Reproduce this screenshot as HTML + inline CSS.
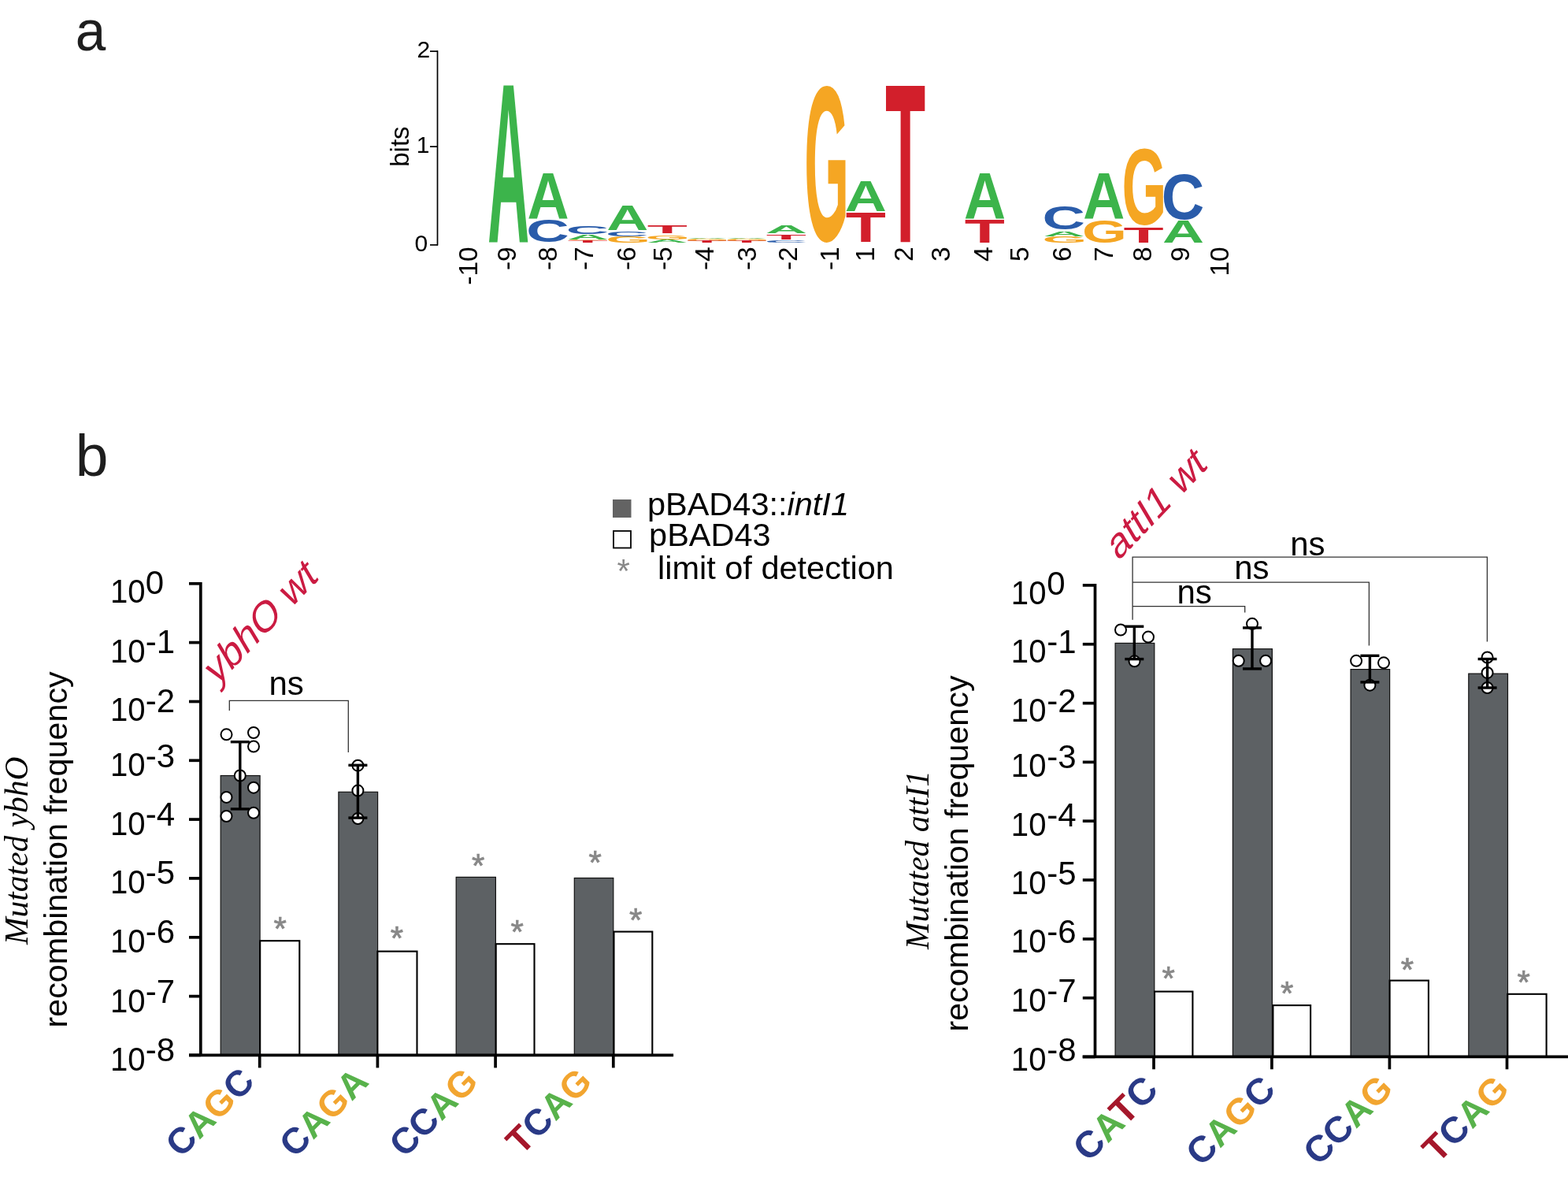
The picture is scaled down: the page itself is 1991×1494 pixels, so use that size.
<!DOCTYPE html>
<html><head><meta charset="utf-8"><title>Figure</title><style>
html,body{margin:0;padding:0;background:#fff;}
svg{display:block;}
text{font-family:"Liberation Sans",Arial,sans-serif;}
.big{font-size:73px;fill:#1e1e1e;}
.s30{font-size:30px;}
.s33{font-size:33px;}
.s335{font-size:33.5px;}
.s42{font-size:42px;}
.s415{font-size:41.5px;}
.s41{font-size:41.3px;}
.ast{font-size:42px;}
.lg{font-size:100px;font-weight:bold;}
.ser{font-family:"Liberation Serif","Times New Roman",serif;font-style:italic;font-size:41.5px;}
.red{font-size:50px;fill:#cb1b42;}
.xl{font-weight:bold;}
</style></head>
<body><svg width="1991" height="1494" viewBox="0 0 1991 1494">
<rect width="1991" height="1494" fill="#fff"/>
<text transform="translate(95.8 63.9) scale(0.95 1)" class="big">a</text>
<text x="95.8" y="604.4" class="big" style="font-size:75px">b</text>
<g stroke="#000" stroke-width="1.7" fill="none">
<line x1="555.5" y1="64.3" x2="555.5" y2="311.5"/>
<line x1="546" y1="65.1" x2="556" y2="65.1"/>
<line x1="546" y1="186.1" x2="556" y2="186.1"/>
<line x1="546" y1="310.9" x2="556" y2="310.9"/>
</g>
<text x="546.3" y="73.2" text-anchor="end" class="s30">2</text>
<text x="545.5" y="194.2" text-anchor="end" class="s30">1</text>
<text x="543.3" y="319.0" text-anchor="end" class="s30">0</text>
<text transform="translate(519 211.8) rotate(-90)" class="s33">bits</text>
<text transform="translate(606 313.3) rotate(-90)" text-anchor="end" class="s335">-10</text>
<text transform="translate(654.8 313.3) rotate(-90)" text-anchor="end" class="s335">-9</text>
<text transform="translate(706.8 313.3) rotate(-90)" text-anchor="end" class="s335">-8</text>
<text transform="translate(753 313.3) rotate(-90)" text-anchor="end" class="s335">-7</text>
<text transform="translate(806.9 313.3) rotate(-90)" text-anchor="end" class="s335">-6</text>
<text transform="translate(852.6 313.3) rotate(-90)" text-anchor="end" class="s335">-5</text>
<text transform="translate(905.6 313.3) rotate(-90)" text-anchor="end" class="s335">-4</text>
<text transform="translate(959.5 313.3) rotate(-90)" text-anchor="end" class="s335">-3</text>
<text transform="translate(1011.8 313.3) rotate(-90)" text-anchor="end" class="s335">-2</text>
<text transform="translate(1065.3 313.3) rotate(-90)" text-anchor="end" class="s335">-1</text>
<text transform="translate(1109.9 313.3) rotate(-90)" text-anchor="end" class="s335">1</text>
<text transform="translate(1159.3 313.3) rotate(-90)" text-anchor="end" class="s335">2</text>
<text transform="translate(1206.3 313.3) rotate(-90)" text-anchor="end" class="s335">3</text>
<text transform="translate(1259.8 313.3) rotate(-90)" text-anchor="end" class="s335">4</text>
<text transform="translate(1305.7 313.3) rotate(-90)" text-anchor="end" class="s335">5</text>
<text transform="translate(1359.8 313.3) rotate(-90)" text-anchor="end" class="s335">6</text>
<text transform="translate(1412.5 313.3) rotate(-90)" text-anchor="end" class="s335">7</text>
<text transform="translate(1462 313.3) rotate(-90)" text-anchor="end" class="s335">8</text>
<text transform="translate(1509.8 313.3) rotate(-90)" text-anchor="end" class="s335">9</text>
<text transform="translate(1559.5 313.3) rotate(-90)" text-anchor="end" class="s335">10</text>
<text transform="matrix(0.73484 0 0 2.89249 619.17 307.50)" class="lg" fill="#3cb44b">A</text>
<text transform="matrix(0.73484 0 0 0.83722 669.57 278.20)" class="lg" fill="#3cb44b">A</text>
<text transform="matrix(0.75404 0 0 0.40254 668.31 307.11)" class="lg" fill="#2a5caa">C</text>
<text transform="matrix(0.75404 0 0 0.14124 718.71 296.66)" class="lg" fill="#2a5caa">C</text>
<text transform="matrix(0.73484 0 0 0.09302 719.97 304.00)" class="lg" fill="#3cb44b">A</text>
<text transform="matrix(0.73058 0 0 0.01695 718.80 305.38)" class="lg" fill="#f5a623">G</text>
<text transform="matrix(0.83720 0 0 0.03198 720.86 307.60)" class="lg" fill="#d21f2b">T</text>
<text transform="matrix(0.73484 0 0 0.43896 770.37 292.00)" class="lg" fill="#3cb44b">A</text>
<text transform="matrix(0.75404 0 0 0.09604 769.11 299.51)" class="lg" fill="#2a5caa">C</text>
<text transform="matrix(0.73058 0 0 0.10169 769.20 307.90)" class="lg" fill="#f5a623">G</text>
<text transform="matrix(0.83720 0 0 0.14535 821.66 296.00)" class="lg" fill="#d21f2b">T</text>
<text transform="matrix(0.73058 0 0 0.07910 819.60 303.52)" class="lg" fill="#f5a623">G</text>
<text transform="matrix(0.73484 0 0 0.04797 820.77 307.70)" class="lg" fill="#3cb44b">A</text>
<text transform="matrix(0.73484 0 0 0.02326 871.17 303.00)" class="lg" fill="#3cb44b">A</text>
<text transform="matrix(0.73058 0 0 0.03672 870.00 305.76)" class="lg" fill="#f5a623">G</text>
<text transform="matrix(0.83720 0 0 0.02616 872.06 307.80)" class="lg" fill="#d21f2b">T</text>
<text transform="matrix(0.73484 0 0 0.02326 921.57 303.00)" class="lg" fill="#3cb44b">A</text>
<text transform="matrix(0.73058 0 0 0.03672 920.40 305.76)" class="lg" fill="#f5a623">G</text>
<text transform="matrix(0.83720 0 0 0.02616 922.46 307.80)" class="lg" fill="#d21f2b">T</text>
<text transform="matrix(0.73484 0 0 0.14244 971.97 295.60)" class="lg" fill="#3cb44b">A</text>
<text transform="matrix(0.83720 0 0 0.08285 972.86 303.70)" class="lg" fill="#d21f2b">T</text>
<text transform="matrix(0.75404 0 0 0.04237 970.71 307.56)" class="lg" fill="#2a5caa">C</text>
<text transform="matrix(0.73058 0 0 2.81212 1021.20 305.25)" class="lg" fill="#f5a623">G</text>
<text transform="matrix(0.73484 0 0 0.55379 1072.77 268.40)" class="lg" fill="#3cb44b">A</text>
<text transform="matrix(0.83720 0 0 0.54361 1073.66 307.30)" class="lg" fill="#d21f2b">T</text>
<text transform="matrix(0.83720 0 0 2.88377 1124.06 307.30)" class="lg" fill="#d21f2b">T</text>
<text transform="matrix(0.73484 0 0 0.83868 1223.97 278.40)" class="lg" fill="#3cb44b">A</text>
<text transform="matrix(0.83720 0 0 0.42152 1224.86 307.80)" class="lg" fill="#d21f2b">T</text>
<text transform="matrix(0.75404 0 0 0.42514 1323.51 291.18)" class="lg" fill="#2a5caa">C</text>
<text transform="matrix(0.73484 0 0 0.09593 1324.77 299.90)" class="lg" fill="#3cb44b">A</text>
<text transform="matrix(0.73058 0 0 0.10169 1323.60 308.10)" class="lg" fill="#f5a623">G</text>
<text transform="matrix(0.73484 0 0 0.82705 1375.17 277.80)" class="lg" fill="#3cb44b">A</text>
<text transform="matrix(0.73058 0 0 0.39830 1374.00 307.81)" class="lg" fill="#f5a623">G</text>
<text transform="matrix(0.73058 0 0 1.37993 1424.40 284.65)" class="lg" fill="#f5a623">G</text>
<text transform="matrix(0.83720 0 0 0.27326 1426.46 307.60)" class="lg" fill="#d21f2b">T</text>
<text transform="matrix(0.75404 0 0 0.81073 1474.71 277.51)" class="lg" fill="#2a5caa">C</text>
<text transform="matrix(0.73484 0 0 0.40117 1475.97 307.60)" class="lg" fill="#3cb44b">A</text>
<rect x="778" y="634" width="23.5" height="23" fill="#636363"/>
<rect x="779" y="674" width="22" height="21.5" fill="#fff" stroke="#000" stroke-width="1.8"/>
<text x="783.5" y="738.5" class="ast" fill="#888888">*</text>
<text x="821.9" y="653.6" class="s415">pBAD43::<tspan font-style="italic">intI1</tspan></text>
<text x="824.1" y="693.3" class="s415">pBAD43</text>
<text x="835" y="734.9" class="s415">limit of detection</text>
<rect x="280.2" y="984.5" width="49.900000000000034" height="354.9000000000001" fill="#5d6164" stroke="#111" stroke-width="1.2"/>
<rect x="429.9" y="1005.3" width="49.700000000000045" height="334.10000000000014" fill="#5d6164" stroke="#111" stroke-width="1.2"/>
<rect x="579.2" y="1113.4" width="50.19999999999993" height="226.0" fill="#5d6164" stroke="#111" stroke-width="1.2"/>
<rect x="729.3" y="1114.5" width="49.5" height="224.9000000000001" fill="#5d6164" stroke="#111" stroke-width="1.2"/>
<rect x="330.2" y="1194.2" width="50.10000000000002" height="145.20000000000005" fill="#fff" stroke="#000" stroke-width="2.1"/>
<rect x="479.4" y="1207.6" width="50.10000000000002" height="131.80000000000018" fill="#fff" stroke="#000" stroke-width="2.1"/>
<rect x="629.7" y="1198.2" width="48.799999999999955" height="141.20000000000005" fill="#fff" stroke="#000" stroke-width="2.1"/>
<rect x="779.5" y="1182.6" width="48.799999999999955" height="156.80000000000018" fill="#fff" stroke="#000" stroke-width="2.1"/>
<circle cx="287.5" cy="932.3" r="7" fill="#fff" stroke="#000" stroke-width="2"/>
<circle cx="322" cy="930" r="7" fill="#fff" stroke="#000" stroke-width="2"/>
<circle cx="322" cy="947.5" r="7" fill="#fff" stroke="#000" stroke-width="2"/>
<circle cx="304.8" cy="984.5" r="7" fill="#fff" stroke="#000" stroke-width="2"/>
<circle cx="322" cy="999.7" r="7" fill="#fff" stroke="#000" stroke-width="2"/>
<circle cx="287.5" cy="1011.9" r="7" fill="#fff" stroke="#000" stroke-width="2"/>
<circle cx="287.5" cy="1036" r="7" fill="#fff" stroke="#000" stroke-width="2"/>
<circle cx="322" cy="1031.8" r="7" fill="#fff" stroke="#000" stroke-width="2"/>
<circle cx="454.4" cy="971.7" r="7" fill="#fff" stroke="#000" stroke-width="2"/>
<circle cx="454.4" cy="1003.6" r="7" fill="#fff" stroke="#000" stroke-width="2"/>
<circle cx="454.4" cy="1039" r="7" fill="#fff" stroke="#000" stroke-width="2"/>
<g stroke="#000" stroke-width="3.4" fill="none"><line x1="304.8" y1="941.7" x2="304.8" y2="1026.9"/><line x1="292.8" y1="941.7" x2="316.8" y2="941.7"/><line x1="292.8" y1="1026.9" x2="316.8" y2="1026.9"/></g>
<g stroke="#000" stroke-width="3.4" fill="none"><line x1="454.4" y1="971.3" x2="454.4" y2="1038.1"/><line x1="442.4" y1="971.3" x2="466.4" y2="971.3"/><line x1="442.4" y1="1038.1" x2="466.4" y2="1038.1"/></g>
<text x="347.4" y="1192.9" class="ast" fill="#888888" stroke="#888888" stroke-width="0.7">*</text>
<text x="495.8" y="1205.2" class="ast" fill="#888888" stroke="#888888" stroke-width="0.7">*</text>
<text x="599.1" y="1113.2" class="ast" fill="#888888" stroke="#888888" stroke-width="0.7">*</text>
<text x="648.6" y="1197.3" class="ast" fill="#888888" stroke="#888888" stroke-width="0.7">*</text>
<text x="747.6" y="1109.1" class="ast" fill="#888888" stroke="#888888" stroke-width="0.7">*</text>
<text x="799.1" y="1181.7" class="ast" fill="#888888" stroke="#888888" stroke-width="0.7">*</text>
<g stroke="#000" stroke-width="3.7" fill="none">
<line x1="254.8" y1="739" x2="254.8" y2="1339.4"/>
<line x1="240" y1="1339.4" x2="855.1" y2="1339.4"/>
<line x1="240" y1="740.8" x2="254.8" y2="740.8"/>
<line x1="240" y1="815.6" x2="254.8" y2="815.6"/>
<line x1="240" y1="890.5" x2="254.8" y2="890.5"/>
<line x1="240" y1="965.3" x2="254.8" y2="965.3"/>
<line x1="240" y1="1040.1" x2="254.8" y2="1040.1"/>
<line x1="240" y1="1114.9" x2="254.8" y2="1114.9"/>
<line x1="240" y1="1189.8" x2="254.8" y2="1189.8"/>
<line x1="240" y1="1264.6" x2="254.8" y2="1264.6"/>
<line x1="240" y1="1339.4" x2="254.8" y2="1339.4"/>
<line x1="329.7" y1="1339.4" x2="329.7" y2="1355.4"/>
<line x1="479.4" y1="1339.4" x2="479.4" y2="1355.4"/>
<line x1="629.1" y1="1339.4" x2="629.1" y2="1355.4"/>
<line x1="778.8" y1="1339.4" x2="778.8" y2="1355.4"/>
</g>
<text transform="translate(139.94 765.1) scale(0.955 1)" class="s42">10</text>
<text x="184.8" y="753.5" class="s42">0</text>
<text transform="translate(139.94 840.5) scale(0.955 1)" class="s42">10</text>
<text x="184.8" y="828.9" class="s42">-1</text>
<text transform="translate(139.94 915.1) scale(0.955 1)" class="s42">10</text>
<text x="184.8" y="903.5" class="s42">-2</text>
<text transform="translate(139.94 985.2) scale(0.955 1)" class="s42">10</text>
<text x="184.8" y="973.6" class="s42">-3</text>
<text transform="translate(139.94 1059.6) scale(0.955 1)" class="s42">10</text>
<text x="184.8" y="1048.0" class="s42">-4</text>
<text transform="translate(139.94 1133.7) scale(0.955 1)" class="s42">10</text>
<text x="184.8" y="1122.1" class="s42">-5</text>
<text transform="translate(139.94 1208.9) scale(0.955 1)" class="s42">10</text>
<text x="184.8" y="1197.3" class="s42">-6</text>
<text transform="translate(139.94 1284.7) scale(0.955 1)" class="s42">10</text>
<text x="184.8" y="1273.1" class="s42">-7</text>
<text transform="translate(139.94 1359.0) scale(0.955 1)" class="s42">10</text>
<text x="184.8" y="1347.4" class="s42">-8</text>
<rect x="1416.1" y="816.4" width="49.700000000000045" height="524.9" fill="#5d6164" stroke="#111" stroke-width="1.2"/>
<rect x="1565.4" y="823.7" width="50.0" height="517.5999999999999" fill="#5d6164" stroke="#111" stroke-width="1.2"/>
<rect x="1715.1" y="849.6" width="49.5" height="491.69999999999993" fill="#5d6164" stroke="#111" stroke-width="1.2"/>
<rect x="1864.8" y="855.1" width="49.700000000000045" height="486.19999999999993" fill="#5d6164" stroke="#111" stroke-width="1.2"/>
<rect x="1466" y="1258.6" width="48.40000000000009" height="82.70000000000005" fill="#fff" stroke="#000" stroke-width="2.1"/>
<rect x="1616.4" y="1276.1" width="47.69999999999982" height="65.20000000000005" fill="#fff" stroke="#000" stroke-width="2.1"/>
<rect x="1764.6" y="1244.6" width="49.30000000000018" height="96.70000000000005" fill="#fff" stroke="#000" stroke-width="2.1"/>
<rect x="1914.3" y="1261.8" width="49.299999999999955" height="79.5" fill="#fff" stroke="#000" stroke-width="2.1"/>
<circle cx="1423" cy="799.5" r="7" fill="#fff" stroke="#000" stroke-width="2"/>
<circle cx="1458" cy="808.6" r="7" fill="#fff" stroke="#000" stroke-width="2"/>
<circle cx="1440.5" cy="839.3" r="7" fill="#fff" stroke="#000" stroke-width="2"/>
<circle cx="1590" cy="791.8" r="7" fill="#fff" stroke="#000" stroke-width="2"/>
<circle cx="1572.7" cy="838.8" r="7" fill="#fff" stroke="#000" stroke-width="2"/>
<circle cx="1607.1" cy="838.8" r="7" fill="#fff" stroke="#000" stroke-width="2"/>
<circle cx="1722.1" cy="838.8" r="7" fill="#fff" stroke="#000" stroke-width="2"/>
<circle cx="1757" cy="841.3" r="7" fill="#fff" stroke="#000" stroke-width="2"/>
<circle cx="1739.4" cy="869.7" r="7" fill="#fff" stroke="#000" stroke-width="2"/>
<circle cx="1888.6" cy="834.5" r="7" fill="#fff" stroke="#000" stroke-width="2"/>
<circle cx="1888.6" cy="853.9" r="7" fill="#fff" stroke="#000" stroke-width="2"/>
<circle cx="1888.6" cy="873" r="7" fill="#fff" stroke="#000" stroke-width="2"/>
<g stroke="#000" stroke-width="3.4" fill="none"><line x1="1440.3" y1="795.2" x2="1440.3" y2="836.6"/><line x1="1428.3" y1="795.2" x2="1452.3" y2="795.2"/><line x1="1428.3" y1="836.6" x2="1452.3" y2="836.6"/></g>
<g stroke="#000" stroke-width="3.4" fill="none"><line x1="1590" y1="796.9" x2="1590" y2="848.9"/><line x1="1578.0" y1="796.9" x2="1602.0" y2="796.9"/><line x1="1578.0" y1="848.9" x2="1602.0" y2="848.9"/></g>
<g stroke="#000" stroke-width="3.4" fill="none"><line x1="1739.4" y1="832.3" x2="1739.4" y2="865.9"/><line x1="1727.4" y1="832.3" x2="1751.4" y2="832.3"/><line x1="1727.4" y1="865.9" x2="1751.4" y2="865.9"/></g>
<g stroke="#000" stroke-width="3.4" fill="none"><line x1="1888.6" y1="836.5" x2="1888.6" y2="873"/><line x1="1876.6" y1="836.5" x2="1900.6" y2="836.5"/><line x1="1876.6" y1="873" x2="1900.6" y2="873"/></g>
<text x="1475.6" y="1256.4" class="ast" fill="#888888" stroke="#888888" stroke-width="0.7">*</text>
<text x="1626.0" y="1275.1" class="ast" fill="#888888" stroke="#888888" stroke-width="0.7">*</text>
<text x="1778.8" y="1244.9" class="ast" fill="#888888" stroke="#888888" stroke-width="0.7">*</text>
<text x="1926.4" y="1261.4" class="ast" fill="#888888" stroke="#888888" stroke-width="0.7">*</text>
<g stroke="#000" stroke-width="3.7" fill="none">
<line x1="1390.5" y1="741" x2="1390.5" y2="1341.3"/>
<line x1="1374.7" y1="1341.3" x2="1991" y2="1341.3"/>
<line x1="1374.8" y1="742.9" x2="1390.5" y2="742.9"/>
<line x1="1374.8" y1="817.7" x2="1390.5" y2="817.7"/>
<line x1="1374.8" y1="892.6" x2="1390.5" y2="892.6"/>
<line x1="1374.8" y1="967.4" x2="1390.5" y2="967.4"/>
<line x1="1374.8" y1="1042.2" x2="1390.5" y2="1042.2"/>
<line x1="1374.8" y1="1117.0" x2="1390.5" y2="1117.0"/>
<line x1="1374.8" y1="1191.9" x2="1390.5" y2="1191.9"/>
<line x1="1374.8" y1="1266.7" x2="1390.5" y2="1266.7"/>
<line x1="1374.8" y1="1341.5" x2="1390.5" y2="1341.5"/>
<line x1="1465" y1="1341.3" x2="1465" y2="1357.3"/>
<line x1="1614.9" y1="1341.3" x2="1614.9" y2="1357.3"/>
<line x1="1764.4" y1="1341.3" x2="1764.4" y2="1357.3"/>
<line x1="1913.5" y1="1341.3" x2="1913.5" y2="1357.3"/>
</g>
<text transform="translate(1283.84 766.7) scale(0.955 1)" class="s42">10</text>
<text x="1329.3" y="755.1" class="s42">0</text>
<text transform="translate(1283.84 840.7) scale(0.955 1)" class="s42">10</text>
<text x="1329.3" y="829.1" class="s42">-1</text>
<text transform="translate(1283.84 915.8) scale(0.955 1)" class="s42">10</text>
<text x="1329.3" y="904.2" class="s42">-2</text>
<text transform="translate(1283.84 986.4) scale(0.955 1)" class="s42">10</text>
<text x="1329.3" y="974.8" class="s42">-3</text>
<text transform="translate(1283.84 1060.7) scale(0.955 1)" class="s42">10</text>
<text x="1329.3" y="1049.1" class="s42">-4</text>
<text transform="translate(1283.84 1134.7) scale(0.955 1)" class="s42">10</text>
<text x="1329.3" y="1123.1" class="s42">-5</text>
<text transform="translate(1283.84 1208.7) scale(0.955 1)" class="s42">10</text>
<text x="1329.3" y="1197.1" class="s42">-6</text>
<text transform="translate(1283.84 1283.9) scale(0.955 1)" class="s42">10</text>
<text x="1329.3" y="1272.3" class="s42">-7</text>
<text transform="translate(1283.84 1359.0) scale(0.955 1)" class="s42">10</text>
<text x="1329.3" y="1347.4" class="s42">-8</text>
<g stroke="#333" stroke-width="1.3" fill="none">
<polyline points="291.3,901.9 291.3,889.3 442.3,889.3 442.3,955"/>
<polyline points="1438.1,786.8 1438.1,707.2 1888.4,707.2 1888.4,814.4"/>
<polyline points="1438.1,739.1 1738.4,739.1 1738.4,819.5"/>
<polyline points="1438.1,769.7 1580.7,769.7 1580.7,777.5"/>
</g>
<text x="341.4" y="882" class="s42">ns</text>
<text x="1638.2" y="704.7" class="s42">ns</text>
<text x="1567.2" y="735.3" class="s42">ns</text>
<text x="1494.5" y="765.5" class="s42">ns</text>
<text transform="translate(84.7 1304.5) rotate(-90)" class="s41">recombination frequency</text>
<text transform="translate(34.6 1199) rotate(-90)" class="ser">Mutated <tspan>ybhO</tspan></text>
<text transform="translate(1229.1 1309.6) rotate(-90)" class="s41">recombination frequency</text>
<text transform="translate(1179 1205) rotate(-90)" class="ser">Mutated attI1</text>
<text transform="matrix(0.71 -0.74 0.522 0.876 274.6 871.4)" class="red">ybhO wt</text>
<text transform="matrix(0.71 -0.74 0.522 0.876 1419.5 712.9)" class="red">attI1 wt</text>
<text transform="translate(229.6 1470.8) rotate(-45)" class="xl" font-size="46"><tspan fill="#2a3a86">C</tspan><tspan fill="#58b24b">A</tspan><tspan fill="#f2a530">G</tspan><tspan fill="#2a3a86">C</tspan></text>
<text transform="translate(374.1 1470.9) rotate(-45)" class="xl" font-size="46"><tspan fill="#2a3a86">C</tspan><tspan fill="#58b24b">A</tspan><tspan fill="#f2a530">G</tspan><tspan fill="#58b24b">A</tspan></text>
<text transform="translate(513.5 1470.8) rotate(-45)" class="xl" font-size="46"><tspan fill="#2a3a86">C</tspan><tspan fill="#2a3a86">C</tspan><tspan fill="#58b24b">A</tspan><tspan fill="#f2a530">G</tspan></text>
<text transform="translate(661.8 1467.4) rotate(-45)" class="xl" font-size="46"><tspan fill="#a5172b">T</tspan><tspan fill="#2a3a86">C</tspan><tspan fill="#58b24b">A</tspan><tspan fill="#f2a530">G</tspan></text>
<text transform="translate(1382.2 1476.3) rotate(-45)" class="xl" font-size="47.5"><tspan fill="#2a3a86">C</tspan><tspan fill="#58b24b">A</tspan><tspan fill="#a5172b">T</tspan><tspan fill="#2a3a86">C</tspan></text>
<text transform="translate(1525.2 1482.0) rotate(-45)" class="xl" font-size="46.5"><tspan fill="#2a3a86">C</tspan><tspan fill="#58b24b">A</tspan><tspan fill="#f2a530">G</tspan><tspan fill="#2a3a86">C</tspan></text>
<text transform="translate(1674.2 1481.0) rotate(-45)" class="xl" font-size="46.5"><tspan fill="#2a3a86">C</tspan><tspan fill="#2a3a86">C</tspan><tspan fill="#58b24b">A</tspan><tspan fill="#f2a530">G</tspan></text>
<text transform="translate(1825.5 1477.8) rotate(-45)" class="xl" font-size="46.5"><tspan fill="#a5172b">T</tspan><tspan fill="#2a3a86">C</tspan><tspan fill="#58b24b">A</tspan><tspan fill="#f2a530">G</tspan></text>
</svg></body></html>
